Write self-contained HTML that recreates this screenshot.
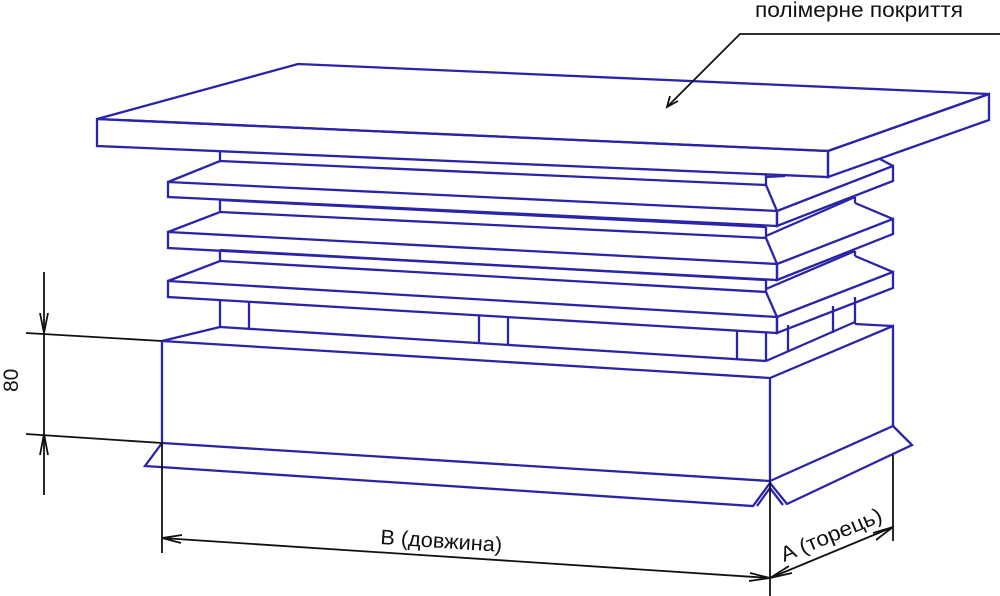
<!DOCTYPE html>
<html><head><meta charset="utf-8"><style>
html,body{margin:0;padding:0;background:#fff;}
svg{display:block}
text{font-family:"Liberation Sans","DejaVu Sans",sans-serif;fill:#111}
</style></head><body>
<svg width="1000" height="596" viewBox="0 0 1000 596" xmlns="http://www.w3.org/2000/svg">
<g fill="none" stroke="#2a24a8" stroke-width="2.3" stroke-linejoin="miter">
<polygon points="97,119 298,64 989,94 828,151"/>
<polygon points="97,119 828,151 828,177 97,146"/>
<polygon points="828,151 989,94 989,120 828,177"/>
<line x1="220" y1="152" x2="220" y2="161"/>
<line x1="766" y1="175" x2="766" y2="185"/>
<line x1="766" y1="177" x2="785" y2="176"/>
<line x1="880" y1="159" x2="893" y2="166"/>
<polyline points="168,182 220,161 766,185 777,211"/>
<polygon points="168,182 777,211 777,226 168,197"/>
<polygon points="777,211 893,166 893,181 777,226"/>
<line x1="220" y1="200" x2="220" y2="212"/>
<line x1="220" y1="200" x2="766" y2="227"/>
<line x1="766" y1="227" x2="766" y2="238"/>
<line x1="766" y1="236" x2="855" y2="197"/>
<line x1="855" y1="197" x2="855" y2="203"/>
<line x1="855" y1="203" x2="893" y2="219"/>
<polyline points="168,232 220,212 766,238 777,264"/>
<polygon points="168,232 777,264 777,280 168,248"/>
<polygon points="777,264 893,219 893,234 777,280"/>
<line x1="220" y1="250" x2="220" y2="261"/>
<line x1="220" y1="250" x2="766" y2="280"/>
<line x1="766" y1="280" x2="766" y2="292"/>
<line x1="766" y1="289" x2="855" y2="251"/>
<line x1="855" y1="251" x2="855" y2="256"/>
<line x1="855" y1="256" x2="893" y2="272"/>
<polyline points="168,281 220,261 766,292 777,317"/>
<polygon points="168,281 777,317 777,333 168,297"/>
<polygon points="777,317 893,272 893,288 777,333"/>
<line x1="220" y1="300" x2="220" y2="327"/>
<line x1="249" y1="301" x2="249" y2="329"/>
<line x1="479" y1="315" x2="479" y2="343"/>
<line x1="508" y1="317" x2="508" y2="345"/>
<line x1="737" y1="330" x2="737" y2="359"/>
<line x1="766" y1="333" x2="766" y2="361"/>
<line x1="788" y1="325" x2="788" y2="352"/>
<line x1="833" y1="306" x2="833" y2="333"/>
<line x1="855" y1="297" x2="855" y2="324"/>
<line x1="220" y1="327" x2="766" y2="361"/>
<line x1="766" y1="361" x2="855" y2="322"/>
<line x1="162" y1="341" x2="220" y2="327"/>
<line x1="855" y1="324" x2="893" y2="326"/>
<polyline points="162,341 770,378 893,326 893,426"/>
<line x1="162" y1="341" x2="162" y2="443"/>
<line x1="770" y1="378" x2="770" y2="481"/>
<line x1="162" y1="443" x2="770" y2="481"/>
<line x1="770" y1="481" x2="893" y2="426"/>
<polyline points="162,443 145,466 753,506 770,483 787,504 912,445 893,426"/>
<polyline points="757,506 770,488 783,505"/>
</g>
<g fill="none" stroke="#111" stroke-width="1.8">
<polyline points="1000,34 740,34 667,107"/>
<polyline points="670,96 667,107 678,101"/>
<line x1="26" y1="333" x2="162" y2="341"/>
<line x1="26" y1="434" x2="162" y2="443"/>
<line x1="44" y1="272" x2="44" y2="495"/>
<polyline points="40,313 44,333 48,313"/>
<polyline points="40,455 44,434 48,455"/>
<line x1="162" y1="443" x2="162" y2="553"/>
<line x1="770" y1="481" x2="770" y2="596"/>
<line x1="162" y1="538" x2="770" y2="578"/>
<polyline points="182,535 162,538 181,543"/>
<polyline points="750,573 770,578 749,581"/>
<line x1="893" y1="455" x2="893" y2="541"/>
<line x1="770" y1="578" x2="893" y2="527"/>
<polyline points="789,566 770,578 792,573"/>
<polyline points="873,533 893,527 876,540"/>
</g>
<text x="755" y="17" font-size="21" textLength="208" lengthAdjust="spacingAndGlyphs">полімерне покриття</text>
<text x="0" y="0" font-size="21" transform="translate(18,392) rotate(-90)">80</text>
<text x="0" y="0" font-size="21" transform="translate(380,544) rotate(3.7)" textLength="122" lengthAdjust="spacingAndGlyphs">B (довжина)</text>
<text x="0" y="0" font-size="21" transform="translate(784,562) rotate(-22.5)" textLength="108" lengthAdjust="spacingAndGlyphs">A (торець)</text>
</svg>
</body></html>
